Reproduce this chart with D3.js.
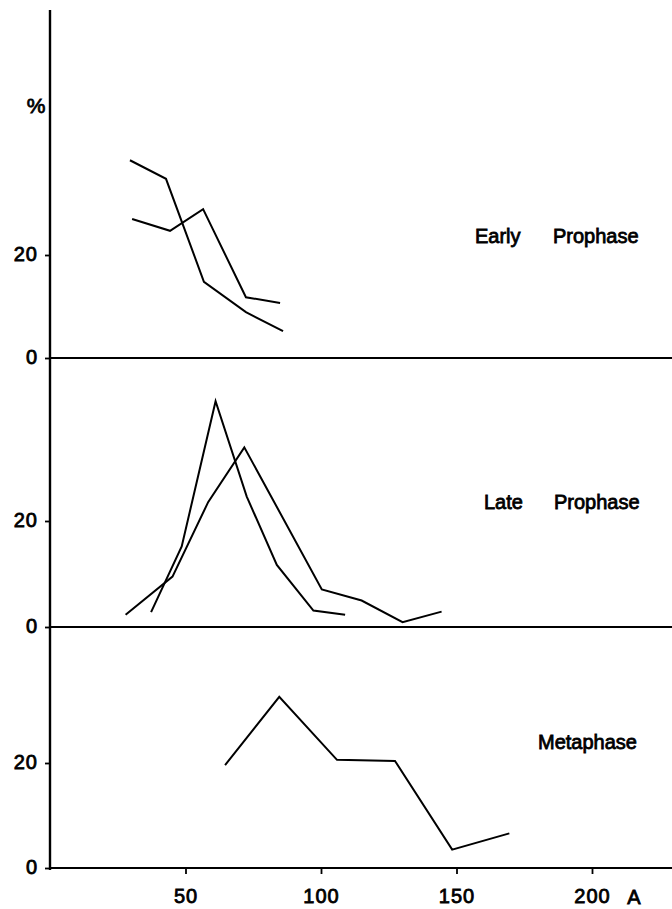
<!DOCTYPE html>
<html>
<head>
<meta charset="utf-8">
<script src="https://cdn.jsdelivr.net/npm/d3@7"></script>
<style>
  body { margin: 0; background: #fff; }
  svg { display: block; }
  text { font-family: "Liberation Sans", Arial, sans-serif; fill: #000; }
</style>
</head>
<body>
<svg width="672" height="909"></svg>
<script>
// data (x = size in A, y = %)
var xTicks = [50, 100, 150, 200];
var yTicks = [0, 20];
var panelNames = ["Early Prophase", "Late Prophase", "Metaphase"];

var earlyA_x = [29.5, 42.8, 56.8, 72.3, 86.0];
var earlyA_y = [38.4, 34.8, 14.8, 8.9, 5.2];
var earlyB_x = [30.3, 44.3, 56.5, 72.3, 84.9];
var earlyB_y = [27.0, 24.7, 28.9, 11.8, 10.7];

var lateA_x = [37.3, 48.6, 61.1, 72.6, 83.7, 97.2, 108.9];
var lateA_y = [2.8, 15.2, 42.6, 24.6, 11.7, 3.1, 2.3];
var lateB_x = [27.9, 45.2, 58.4, 71.7, 100.3, 115.0, 130.1, 144.5];
var lateB_y = [2.3, 9.5, 23.6, 33.9, 7.1, 5.0, 0.9, 2.9];

var meta_x = [64.6, 84.6, 105.9, 127.3, 148.4, 169.5];
var meta_y = [19.6, 32.6, 20.6, 20.4, 3.5, 6.6];

function zip(xs, ys) {
  return xs.map(function(d, i) { return [d, ys[i]]; });
}

var svg = d3.select("svg"),
    width = +svg.attr("width"),
    axisX = 50;

svg.append("rect").attr("width", width).attr("height", 909).attr("fill", "#fff");

var x = d3.scaleLinear().domain([0, 200]).range([axisX, 592]);

// each panel: pixel of 0 and of 20
var panels = [
  { name: panelNames[0], y0: 358, y20: 255, series: [zip(earlyA_x, earlyA_y), zip(earlyB_x, earlyB_y)],
    label: [{ t: "Early", x: 475 }, { t: "Prophase", x: 553 }], labelY: 243 },
  { name: panelNames[1], y0: 627, y20: 521, series: [zip(lateA_x, lateA_y), zip(lateB_x, lateB_y)],
    label: [{ t: "Late", x: 484 }, { t: "Prophase", x: 554 }], labelY: 509 },
  { name: panelNames[2], y0: 868, y20: 763, series: [zip(meta_x, meta_y)],
    label: [{ t: "Metaphase", x: 538 }], labelY: 749 }
];

// vertical axis line
svg.append("line")
    .attr("x1", axisX).attr("x2", axisX)
    .attr("y1", 10).attr("y2", 870)
    .attr("stroke", "#000").attr("stroke-width", 2.4);

svg.append("text")
    .attr("x", 36).attr("y", 113)
    .attr("text-anchor", "middle")
    .style("font-size", "21px")
    .attr("stroke", "#000").attr("stroke-width", 0.8)
    .text("%");

panels.forEach(function(p) {
  var y = d3.scaleLinear().domain([0, 20]).range([p.y0, p.y20]);

  // baseline
  svg.append("line")
      .attr("x1", axisX).attr("x2", width)
      .attr("y1", y(0)).attr("y2", y(0))
      .attr("stroke", "#000").attr("stroke-width", 2);

  var ay = svg.append("g")
      .attr("transform", "translate(" + axisX + ",0)")
      .call(d3.axisLeft(y).tickValues(yTicks).tickSize(5).tickPadding(7));
  ay.select(".domain").remove();
  ay.selectAll("line").attr("stroke", "#000").attr("stroke-width", 1.8);
  ay.selectAll("text")
      .attr("dy", "0.25em")
      .style("font-size", "20px")
      .style("font-family", "Liberation Sans, Arial, sans-serif")
      .style("letter-spacing", "1px")
      .attr("stroke", "#000").attr("stroke-width", 0.8);

  var line = d3.line()
      .x(function(d) { return x(d[0]); })
      .y(function(d) { return y(d[1]); });

  svg.selectAll(null)
    .data(p.series)
    .enter().append("path")
      .attr("d", line)
      .attr("fill", "none")
      .attr("stroke", "#000")
      .attr("stroke-width", 2)
      .attr("stroke-linejoin", "miter");

  svg.selectAll(null)
    .data(p.label)
    .enter().append("text")
      .attr("x", function(d) { return d.x; })
      .attr("y", p.labelY)
      .style("font-size", "20px")
      .attr("stroke", "#000").attr("stroke-width", 0.8)
      .text(function(d) { return d.t; });
});

// bottom x axis
var ax = svg.append("g")
    .attr("transform", "translate(0," + panels[2].y0 + ")")
    .call(d3.axisBottom(x).tickValues(xTicks).tickSize(6).tickPadding(15));
ax.select(".domain").remove();
ax.selectAll("line").attr("stroke", "#000").attr("stroke-width", 1.8);
ax.selectAll("text")
    .style("font-size", "20px")
    .style("font-family", "Liberation Sans, Arial, sans-serif")
    .style("letter-spacing", "1px")
    .attr("stroke", "#000").attr("stroke-width", 0.8);

svg.append("text")
    .attr("x", 634).attr("y", panels[2].y0 + 36)
    .attr("text-anchor", "middle")
    .style("font-size", "20px")
    .attr("stroke", "#000").attr("stroke-width", 0.8)
    .text("A");
</script>
</body>
</html>
